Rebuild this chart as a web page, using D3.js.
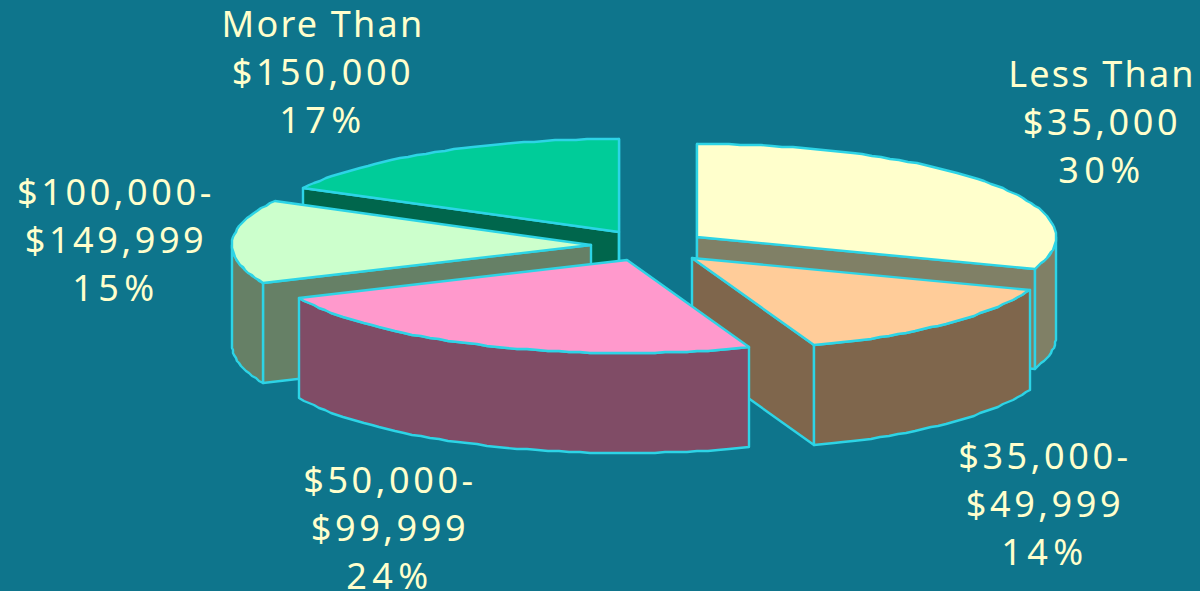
<!DOCTYPE html>
<html>
<head>
<meta charset="utf-8">
<script src="https://cdn.jsdelivr.net/npm/d3@7/dist/d3.min.js"></script>
<style>
html,body{margin:0;padding:0;background:#0E758C;overflow:hidden}
svg{display:block}
</style>
</head>
<body>
<svg id="chart" width="1200" height="591"></svg>
<script>
// Data
const categories = ["Less Than $35,000", "$35,000-$49,999", "$50,000-$99,999", "$100,000-$149,999", "More Than $150,000"];
const shares = [30.5, 13.98, 23.82, 14.6, 17.1];
const percentLabels = ["30%", "14%", "24%", "15%", "17%"];
const labelLines = [
  ["Less Than", "$35,000"],
  ["$35,000-", "$49,999"],
  ["$50,000-", "$99,999"],
  ["$100,000-", "$149,999"],
  ["More Than", "$150,000"]
];

// Layout and style
const W = 1200, H = 591, RX = 359, RY = 93, DEPTH = 100;
const apexX = [697, 692, 627, 591, 619];
const apexY = [237, 258, 260, 245, 232];
const labelX = [1102, 1045, 390, 116, 323];
const labelY = [87, 469, 493, 205, 37];
const topColors = ["#FFFFCC", "#FFCC99", "#FF99CC", "#CCFFCC", "#00CC99"];
const sideColors = ["#808066", "#7F664C", "#804C66", "#668066", "#00664C"];
const paintOrder = [4, 3, 0, 1, 2];
const STROKE = "#2DD4E6";

const svg = d3.select("#chart");
const sx = d3.scaleLinear().domain([-1, 1]).range([-RX, RX]);
const sy = d3.scaleLinear().domain([-1, 1]).range([-RY, RY]);
const arcs = d3.pie().sort(null).value(d => d)(shares);
const line = d3.line();
const pt = (i, a, dz = 0) => [Math.round(apexX[i] + sx(Math.sin(a))), Math.round(apexY[i] + sy(-Math.cos(a)) + dz)];
const arcPts = (i, a0, a1, dz = 0) => {
  const n = Math.max(2, Math.ceil((a1 - a0) / 0.03));
  return d3.range(n + 1).map(k => pt(i, a0 + (a1 - a0) * k / n, dz));
};

const draw = (g, pts, fill) => g.append("path")
  .attr("d", line(pts) + "Z")
  .attr("fill", fill)
  .attr("stroke", STROKE)
  .attr("stroke-width", 2.4)
  .attr("stroke-linejoin", "round");

paintOrder.forEach(i => {
  const a = arcs[i], g = svg.append("g").attr("class", "slice");
  const a0 = a.startAngle, a1 = a.endAngle;
  const apex = [apexX[i], apexY[i]], apexLow = [apexX[i], apexY[i] + DEPTH];
  const wall = ang => [apex, pt(i, ang), pt(i, ang, DEPTH), apexLow];
  if (Math.sin(a0) <= 1e-9) draw(g, wall(a0), sideColors[i]);
  if (Math.sin(a1) >= -1e-9) draw(g, wall(a1), sideColors[i]);
  const f0 = Math.max(a0, Math.PI / 2), f1 = Math.min(a1, Math.PI * 1.5);
  if (f1 > f0) {
    draw(g, arcPts(i, f0, f1).concat(arcPts(i, f0, f1, DEPTH).reverse()), sideColors[i]);
  }
  draw(g, [apex].concat(arcPts(i, a0, a1)), topColors[i]);
});

const labels = svg.append("g").selectAll("text").data(categories).join("text")
  .attr("text-anchor", "middle")
  .attr("fill", "#FFFFCC")
  .attr("font-family", "'Noto Sans', sans-serif")
  .attr("font-size", 36)
  .attr("y", (d, i) => labelY[i]);
labels.each(function (d, i) {
  const t = d3.select(this);
  labelLines[i].concat(percentLabels[i]).forEach((s, k) => {
    t.append("tspan")
      .attr("x", labelX[i])
      .attr("y", labelY[i] + k * 48)
      .attr("letter-spacing", k === 2 ? 5.5 : s[0] === "$" ? 3.6 : 2.2)
      .text(s);
  });
});
</script>
</body>
</html>
